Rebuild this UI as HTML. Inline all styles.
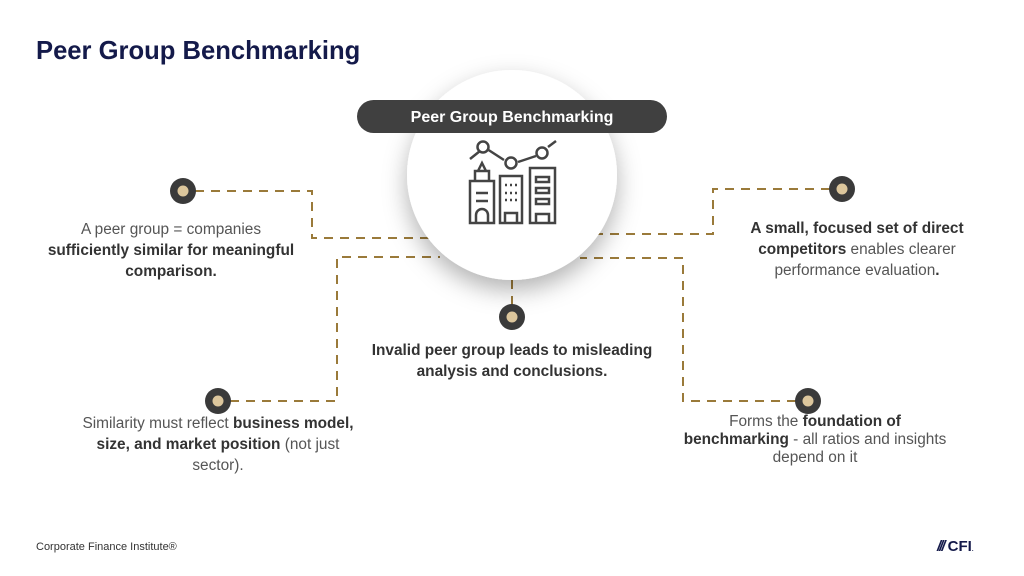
<!DOCTYPE html>
<html><head><meta charset="utf-8"><style>
body{margin:0;width:1024px;height:576px;background:#fff;font-family:"Liberation Sans",sans-serif;overflow:hidden;position:relative}
.t{position:absolute;font-size:15.4px;color:#555;text-align:center;line-height:21px;white-space:nowrap}
b{color:#333}
</style></head><body>
<div style="position:absolute;left:36px;top:37px;font-size:25.6px;font-weight:bold;color:#141a4a">Peer Group Benchmarking</div>
<svg width="1024" height="576" style="position:absolute;left:0;top:0">
<defs><filter id="sh" x="-50%" y="-50%" width="200%" height="200%"><feDropShadow dx="0" dy="10" stdDeviation="12" flood-color="#000" flood-opacity="0.3"/></filter></defs>
<g fill="none" stroke="#9a7a3a" stroke-width="2" stroke-dasharray="9,7">
<path d="M195 191H312V238H440"/>
<path d="M230 401H337V257H440"/>
<path d="M830 189H713V234H590"/>
<path d="M796 401H683V258H580"/>
<path d="M512 280V305"/>
</g>
<circle cx="512" cy="175" r="105" fill="#fff" filter="url(#sh)"/>
<rect x="357" y="100" width="310" height="33" rx="16.5" fill="#404040"/>
<text x="512" y="122" text-anchor="middle" font-size="16" font-weight="bold" fill="#fff" font-family="Liberation Sans">Peer Group Benchmarking</text>
<g fill="none" stroke="#444" stroke-width="2.5">
<path d="M470 159L480 151M487 149L504 160M518 162L536 156M548 147L556 141"/>
<circle cx="483" cy="147" r="5.5"/><circle cx="511" cy="163" r="5.5"/><circle cx="542" cy="153" r="5.5"/>
<rect x="470" y="181" width="24" height="42"/><path d="M475 181V171H489V181M478 171L482 163L486 171"/>
<path d="M476 193h12M476 201h12M476 223v-8a6 6 0 0 1 12 0v8"/>
<rect x="500" y="176" width="22" height="47"/><path d="M505 223v-10h12v10M505 185h2M510 185h2M515 185h2M505 193h2M510 193h2M515 193h2M505 200h2M510 200h2M515 200h2"/>
<rect x="530" y="168" width="25" height="55"/><path d="M536 177h13v5h-13zM536 188h13v5h-13zM536 199h13v5h-13zM536 223v-9h13v9"/>
</g>
<g>
<circle cx="183" cy="191" r="13" fill="#3a3a3a"/><circle cx="183" cy="191" r="5.5" fill="#dcc69c"/>
<circle cx="218" cy="401" r="13" fill="#3a3a3a"/><circle cx="218" cy="401" r="5.5" fill="#dcc69c"/>
<circle cx="842" cy="189" r="13" fill="#3a3a3a"/><circle cx="842" cy="189" r="5.5" fill="#dcc69c"/>
<circle cx="808" cy="401" r="13" fill="#3a3a3a"/><circle cx="808" cy="401" r="5.5" fill="#dcc69c"/>
<circle cx="512" cy="317" r="13" fill="#3a3a3a"/><circle cx="512" cy="317" r="5.5" fill="#dcc69c"/>
</g>
</svg>
<div class="t" style="left:6px;width:330px;top:219px">A peer group = companies<br><b>sufficiently similar for meaningful</b><br><b>comparison.</b></div>
<div class="t" style="left:53px;width:330px;top:413px">Similarity must reflect <b>business model,</b><br><b>size, and market position</b> (not just<br>sector).</div>
<div class="t" style="left:692px;width:330px;top:218px"><b>A small, focused set of direct</b><br><b>competitors</b> enables clearer<br>performance evaluation<b>.</b></div>
<div class="t" style="left:650px;width:330px;top:413px;line-height:18px">Forms the <b>foundation of</b><br><b>benchmarking</b> - all ratios and insights<br>depend on it</div>
<div class="t" style="left:347px;width:330px;top:340px;font-weight:bold;color:#333">Invalid peer group leads to misleading<br>analysis and conclusions.</div>
<div style="position:absolute;left:36px;top:541px;font-size:11px;color:#333">Corporate Finance Institute®</div>
<div style="position:absolute;left:937px;top:538px;font-size:15px;font-weight:bold;color:#141a4a"><span style="font-style:italic;letter-spacing:-2px">///</span> CFI<span style="font-size:6px">.</span></div>
</body></html>
